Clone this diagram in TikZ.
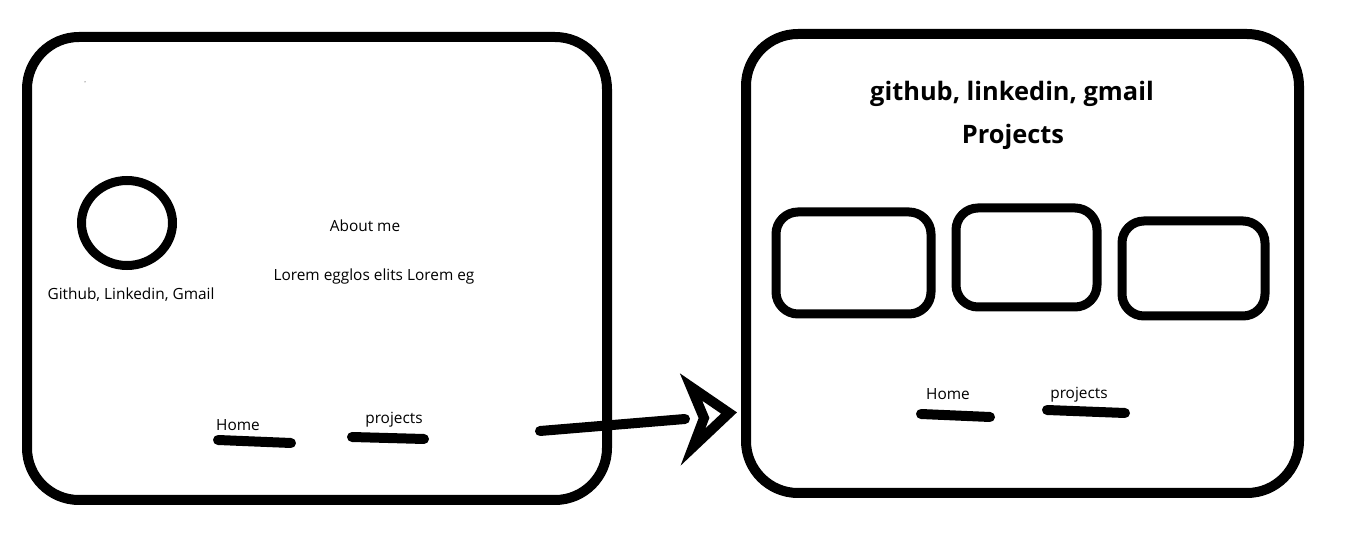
\documentclass[tikz,border=0pt]{standalone}
\usepackage{fontspec}
\setmainfont{Open Sans}
\usetikzlibrary{shapes.geometric}
\colorlet{ink}{black}

\begin{document}
\begin{tikzpicture}[x=0.5pt,y=-0.5pt]
\useasboundingbox (0,0) rectangle (1346,550);
\tikzset{PageStyle/.style ={draw=ink, line width=5pt, rounded corners=26pt, inner sep=0}}
\tikzset{CardStyle/.style ={draw=ink, line width=4.5pt, rounded corners=11pt, inner sep=0}}
\tikzset{TextStyle/.style ={inner sep=0, font=\fontsize{7.7}{9}\selectfont}}
\tikzset{TitleStyle/.style ={inner sep=0, font=\fontsize{12.7}{15}\bfseries\selectfont}}
\tikzset{MarkStyle/.style ={draw=ink, line width=5pt, line cap=round}}
\node[PageStyle, minimum width=290pt, minimum height=231.5pt] (home) at (317,268.5) {};
\node[PageStyle, minimum width=276.5pt, minimum height=229.5pt] (projpage) at (1022.5,263.5) {};
\node[draw=ink, ellipse, line width=4.5pt, inner sep=0, minimum width=45.5pt, minimum height=42.5pt] (avatar) at (127,223) {};
\fill[ink] (85,82) circle (0.5);
\node[TextStyle] (contacts) at (131,295) {Github, Linkedin, Gmail};
\node[TextStyle] (about) at (365,226) {About me};
\node[TextStyle] (lorem) at (374,277) {Lorem egglos elits Lorem eg};
\node[TextStyle] (homeA) at (238,425) {Home};
\node[TextStyle] (projA) at (394,420) {projects};
\draw[MarkStyle] (218,440) -- (291,443);
\draw[MarkStyle] (352,437) -- (424,439);
\node[TitleStyle] (links) at (1012,94) {github, linkedin, gmail};
\node[TitleStyle] (projtitle) at (1013,137) {Projects};
\node[CardStyle, minimum width=77.5pt, minimum height=51pt] (card1) at (853.5,263) {};
\node[CardStyle, minimum width=70.5pt, minimum height=49.5pt] (card2) at (1026.5,257.5) {};
\node[CardStyle, minimum width=71.5pt, minimum height=47.5pt] (card3) at (1193.5,268.5) {};
\node[TextStyle] (homeB) at (948,394) {Home};
\node[TextStyle] (projB) at (1079,395) {projects};
\draw[MarkStyle] (921,414) -- (990,417);
\draw[MarkStyle] (1047,410) -- (1125,413);
\coordinate (from) at (540,431);
\coordinate (to) at (685,419);
\coordinate (tip) at (729,413);
\draw[MarkStyle] (from) -- (to);
\draw[ink, line width=5pt, line join=miter] (tip) -- (691,387) -- (704,418) -- (693,447) -- cycle;
\end{tikzpicture}
\end{document}
